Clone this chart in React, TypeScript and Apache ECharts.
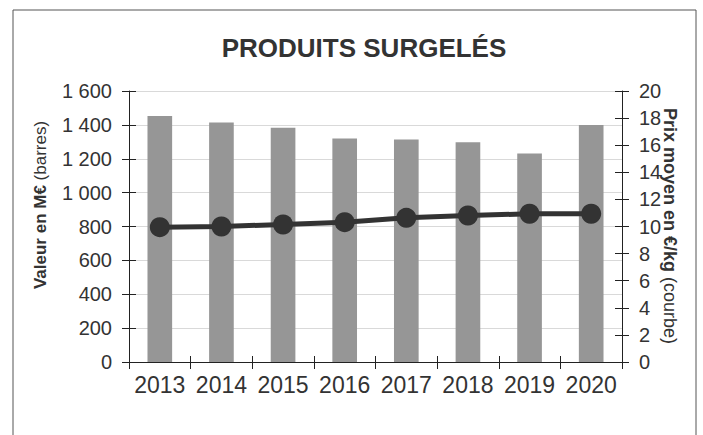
import React, { useEffect, useRef } from "react";
import * as echarts from "echarts";

const years = ["2013", "2014", "2015", "2016", "2017", "2018", "2019", "2020"];
const valeurs = [1452, 1414, 1383, 1320, 1314, 1298, 1231, 1399];
const prix = [9.95, 10.0, 10.15, 10.32, 10.64, 10.81, 10.94, 10.94];
const title = "PRODUITS SURGELÉS";
const leftName = "Valeur en M€";
const leftNameSuffix = " (barres)";
const rightName = "Prix moyen en €/kg";
const rightNameSuffix = " (courbe)";

const FONT = "Liberation Sans, Arial, sans-serif";
const TXT = "#333333";
const AXIS = "#222222";

export default function App() {
  const ref = useRef<HTMLDivElement>(null);
  useEffect(() => {
    if (!ref.current) return;
    const chart = echarts.init(ref.current, undefined, { renderer: "svg" });
    const grid = { left: 129, right: 81, top: 91, bottom: 73, containLabel: false };
    const yBase = (pos: string, min: number, max: number, interval: number, fmt?: any) => ({
      type: "value",
      position: pos,
      min,
      max,
      interval,
      axisLine: { show: true, lineStyle: { color: AXIS, width: 1 } },
      axisTick: { show: true, inside: false, length: 7, lineStyle: { color: AXIS } },
      splitLine: { show: false },
      axisLabel: {
        show: true,
        color: TXT,
        fontFamily: FONT,
        fontSize: 20,
        margin: 17,
        formatter: fmt,
      },
    });
    const yInside = (pos: string, min: number, max: number, interval: number) => ({
      type: "value",
      position: pos,
      min,
      max,
      interval,
      axisLine: { show: false },
      axisTick: { show: true, inside: true, length: 7, lineStyle: { color: AXIS } },
      splitLine: { show: false },
      axisLabel: { show: false },
    });
    const leftAxis: any = yBase("left", 0, 1600, 200, (v: number) =>
      v >= 1000 ? Math.floor(v / 1000) + " " + String(v % 1000).padStart(3, "0") : String(v)
    );
    leftAxis.splitLine = { show: true, lineStyle: { color: "#d9d9d9", width: 1 } };
    chart.setOption({
      animation: false,
      backgroundColor: "#ffffff",
      title: {
        text: title,
        left: 359,
        top: 30,
        textAlign: "center",
        textStyle: { fontFamily: FONT, fontWeight: "bold", fontSize: 26, color: TXT },
      },
      grid,
      xAxis: [
        {
          type: "category",
          data: years,
          boundaryGap: true,
          axisLine: { show: true, lineStyle: { color: AXIS, width: 1 } },
          axisTick: { show: true, length: 7, inside: false, interval: 0, lineStyle: { color: AXIS } },
          axisLabel: { color: TXT, fontFamily: FONT, fontSize: 23, margin: 11, interval: 0 },
          splitLine: { show: false },
        },
        {
          type: "category",
          data: years,
          position: "bottom",
          boundaryGap: true,
          axisLine: { show: false },
          axisTick: { show: true, length: 6, inside: true, interval: 0, lineStyle: { color: AXIS } },
          axisLabel: { show: false },
        },
      ],
      yAxis: [
        leftAxis,
        yBase("right", 0, 20, 2),
        yInside("left", 0, 1600, 200),
        yInside("right", 0, 20, 2),
      ],
      series: [
        {
          type: "bar",
          data: valeurs,
          yAxisIndex: 0,
          barWidth: "40%",
          itemStyle: { color: "#969696" },
        },
        {
          type: "line",
          data: prix,
          yAxisIndex: 1,
          symbol: "circle",
          symbolSize: 20,
          lineStyle: { color: "#333333", width: 5 },
          itemStyle: { color: "#333333" },
          z: 5,
        },
      ],
      graphic: [
        {
          type: "rect",
          shape: { x: 13, y: 10, width: 683, height: 440 },
          style: { fill: "none", stroke: "#555555", lineWidth: 1 },
          silent: true,
        },
        {
          type: "text",
          x: 40,
          y: 205,
          rotation: Math.PI / 2,
          style: {
            text: "{b|" + leftName + "}{n|" + leftNameSuffix + "}",
            align: "center",
            verticalAlign: "middle",
            fill: TXT,
            rich: {
              b: { fontFamily: FONT, fontSize: 17, fontWeight: "bold", fill: TXT },
              n: { fontFamily: FONT, fontSize: 17, fontWeight: "normal", fill: TXT },
            },
          },
        },
        {
          type: "text",
          x: 670,
          y: 226,
          rotation: -Math.PI / 2,
          style: {
            text: "{b|" + rightName + "}{n|" + rightNameSuffix + "}",
            align: "center",
            verticalAlign: "middle",
            fill: TXT,
            rich: {
              b: { fontFamily: FONT, fontSize: 18, fontWeight: "bold", fill: TXT },
              n: { fontFamily: FONT, fontSize: 18, fontWeight: "normal", fill: TXT },
            },
          },
        },
      ],
    });
    return () => chart.dispose();
  }, []);
  return (
    <div
      ref={ref}
      style={{ position: "absolute", left: 0, top: 0, width: 703, height: 435 }}
    />
  );
}
